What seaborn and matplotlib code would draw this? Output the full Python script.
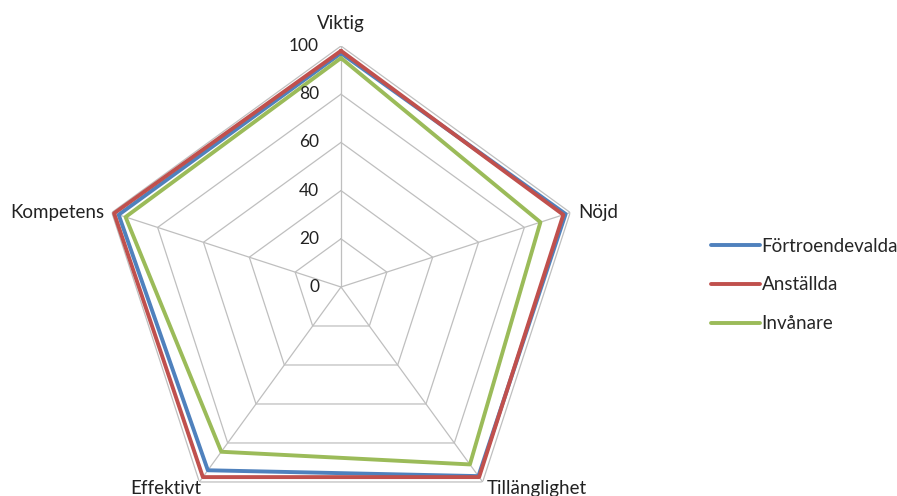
import numpy as np
import pandas as pd
import matplotlib
matplotlib.use("Agg")
import matplotlib.pyplot as plt
import seaborn as sns

categories = ["Viktig", "Nöjd", "Tillänglighet", "Effektivt", "Kompetens"]
series_names = ["Förtroendevalda", "Anställda", "Invånare"]
fortroendevalda = [97, 98, 97, 94, 97]
anstallda = [98, 97, 97.5, 97.5, 99]
invanare = [95, 87, 91, 84.5, 94]
r_ticks = [0, 20, 40, 60, 80, 100]
colors = ["#4F81BD", "#C0504D", "#9BBB59"]

sns.set_theme(style="white")
plt.rcParams["font.family"] = ["Lato", "DejaVu Sans"]

W, H = 897, 496
fig = plt.figure(figsize=(W / 100, H / 100), dpi=100)
cx, cy, R = 341, 287, 241
ax = fig.add_axes([(cx - R) / W, (H - cy - R) / H, 2 * R / W, 2 * R / H], projection="polar")
ax.set_theta_offset(np.pi / 2)
ax.set_theta_direction(-1)
ax.set_ylim(0, 100)
ax.grid(False)
ax.set_xticks([])
ax.set_yticks([])
ax.spines["polar"].set_visible(False)
ax.patch.set_alpha(0)

n = len(categories)
angles = np.linspace(0, 2 * np.pi, n, endpoint=False)
closed = np.append(angles, 2 * np.pi)

# grid pentagons and spokes
for rt in r_ticks[1:]:
    ax.plot(closed, [rt] * (n + 1), color="#BFBFBF", lw=0.9, zorder=1)
for a in angles:
    ax.plot([a, a], [0, 100], color="#BFBFBF", lw=0.9, zorder=1)

rows = []
for name, vals in zip(series_names, [fortroendevalda, anstallda, invanare]):
    for a, v in zip(closed, list(vals) + [vals[0]]):
        rows.append({"theta": a, "value": v, "series": name})
df = pd.DataFrame(rows)

sns.lineplot(data=df, x="theta", y="value", hue="series", hue_order=series_names,
             palette=colors, sort=False, estimator=None, lw=2.8, ax=ax, zorder=3,
             legend=True)
ax.set_xlabel("")
ax.set_ylabel("")
ax.set_ylim(0, 100)

# radial labels
for rt in r_ticks:
    ax.annotate(str(rt), xy=(0, rt), xytext=(-22, 0), textcoords="offset pixels",
                ha="right", va="center", fontsize=12.5, color="#222222")

# category labels
offsets = [(0, 14, "center", "bottom"), (8, 0, "left", "center"),
           (4, -7, "left", "center"), (2, -7, "right", "center"),
           (-7, 0, "right", "center")]
for a, lab, (dx, dy, ha, va) in zip(angles, categories, offsets):
    ax.annotate(lab, xy=(a, 100), xytext=(dx, dy), textcoords="offset pixels",
                ha=ha, va=va, fontsize=13.5, color="#222222", annotation_clip=False)

handles, labels = ax.get_legend_handles_labels()
ax.legend_.remove()
fig.legend(handles, labels, loc="center left", bbox_to_anchor=(711 / W, (H - 285) / H),
           bbox_transform=fig.transFigure, frameon=False, fontsize=13.5,
           handlelength=2.6, handletextpad=0.1, labelspacing=1.15,
           borderpad=0, borderaxespad=0)

fig.savefig("out.png", dpi=100)
